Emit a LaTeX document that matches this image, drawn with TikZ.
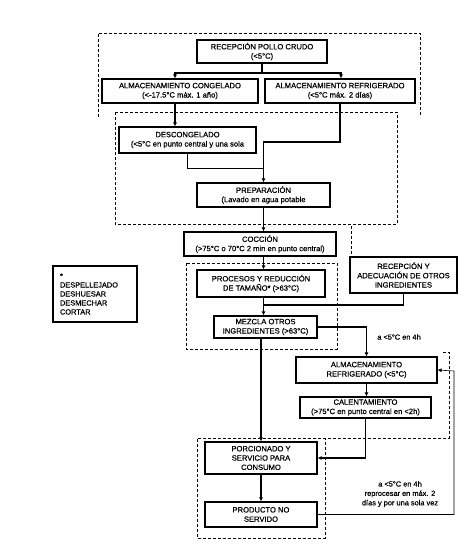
\documentclass[tikz,border=0pt]{standalone}
\usepackage{fontspec}
\setmainfont{Liberation Sans}
\newfontface\heavy{Liberation Sans}[FakeBold=0.6]
\usetikzlibrary{arrows.meta}
\tikzset{
  box/.style={draw, line width=1.1pt, align=center, inner sep=0pt,
    font=\heavy\fontsize{7.6}{9.3}\selectfont},
  flow/.style={line width=1.1pt, -{Latex[length=4pt,width=4pt]}},
  thickline/.style={line width=1.1pt},
  thinline/.style={line width=0.6pt},
  thinflow/.style={line width=0.6pt, -{Latex[length=4pt,width=4pt]}},
  zone/.style={line width=0.9pt, dash pattern=on 3pt off 2pt},
  note/.style={align=center, inner sep=0pt, font=\heavy\fontsize{7.4}{9.4}\selectfont}
}
\begin{document}
\begin{tikzpicture}[x=1pt,y=-1pt]
\useasboundingbox (0,0) rectangle (474,553);
% zones
\draw[zone] (98,117) -- (98,33) -- (420,33) -- (420,117);
\draw[zone] (115,112) rectangle (397,224);
\draw[zone] (351,226) -- (351,255);
\draw[zone] (186,263) rectangle (337,349);
\draw[zone] (443,352) -- (449,352) -- (449,438) -- (197,438) -- (197,538) -- (325,538) -- (325,438);
% nodes
\node[box, minimum width=130pt, minimum height=23pt] (rec) at (262,51.5) {RECEPCIÓN POLLO CRUDO\\(<5°C)};
\node[box, minimum width=156pt, minimum height=24pt] (cong) at (180,91) {ALMACENAMIENTO CONGELADO\\(<-17.5°C máx. 1 año)};
\node[box, minimum width=150pt, minimum height=24pt] (refr) at (340,91) {ALMACENAMIENTO REFRIGERADO\\(<5°C máx. 2 días)};
\node[box, minimum width=137pt, minimum height=26pt] (desc) at (187.5,140) {DESCONGELADO\\(<5°C en punto central y una sola};
\node[box, minimum width=133pt, minimum height=24pt] (prep) at (263.5,195) {PREPARACIÓN\\(Lavado en agua potable};
\node[box, minimum width=152pt, minimum height=24pt] (cocc) at (260,244) {COCCIÓN\\(>75°C o 70°C 2 min en punto central)};
\node[box, minimum width=128pt, minimum height=27pt] (proc) at (261,283.5) {PROCESOS Y REDUCCIÓN\\DE TAMAÑO* (>63°C)};
\node[box, minimum width=107pt, minimum height=36pt] (recep2) at (403.5,275) {RECEPCIÓN Y\\ADECUACIÓN DE OTROS\\INGREDIENTES};
\node[box, minimum width=103pt, minimum height=22pt] (mezcla) at (265.5,327) {MEZCLA OTROS\\INGREDIENTES (>63°C)};
\node[box, minimum width=141pt, minimum height=26pt] (almref) at (366.5,370) {ALMACENAMIENTO\\REFRIGERADO (<5°C)};
\node[box, minimum width=131pt, minimum height=21pt] (calent) at (365.5,407.5) {CALENTAMIENTO\\(>75°C en punto central en <2h)};
\node[box, minimum width=112pt, minimum height=32pt] (porc) at (261,458) {PORCIONADO Y\\SERVICIO PARA\\CONSUMO};
\node[box, minimum width=112pt, minimum height=25pt] (prod) at (261,514.5) {PRODUCTO NO\\SERVIDO};
\node[box, minimum width=84pt, minimum height=56pt, align=left, text width=70pt, font=\heavy\fontsize{7.4}{9}\selectfont] (legend) at (95,294) {*\\DESPELLEJADO\\DESHUESAR\\DESMECHAR\\CORTAR};
\node[note] (lab1) at (399,337) {a <5°C en 4h};
\node[note] (lab2) at (400,494) {a <5°C en 4h\\reprocesar en máx. 2\\días y por una sola vez};
% connectors
\coordinate (j1) at (262,73);
\coordinate (k1) at (340,142);
\coordinate (k2) at (263.5,168);
\coordinate (k3) at (263.5,305);
\coordinate (k4) at (454,371);
\draw[thickline] (rec.south) -- (j1);
\draw[flow] (j1) -| ([xshift=-5pt]cong.north);
\draw[flow] (j1) -| ([xshift=1pt]refr.north);
\draw[flow] ([xshift=-5pt]cong.south) -- ([xshift=-5pt]cong.south |- desc.north);
\draw[flow] (refr.south) -- (k1) -| (prep.north);
\draw[thinline] (desc.south) |- (k2);
\draw[flow] (prep.south) -- (prep.south |- cocc.north);
\draw[flow] (prep.south |- cocc.south) -- (prep.south |- proc.north);
\draw[flow] (prep.south |- proc.south) -- (prep.south |- mezcla.north);
\draw[thickline] (recep2.south) |- (k3);
\draw[flow] (mezcla.east) -| (almref.north);
\draw[flow] (porc.north |- mezcla.south) -- (porc.north);
\draw[flow] (almref.south) -- (almref.south |- calent.north);
\draw[flow] (calent.south) |- (porc.east);
\draw[flow] (porc.south) -- (prod.north);
\draw[thinflow] (prod.east) -| (k4) -- (almref.east);
\end{tikzpicture}
\end{document}
